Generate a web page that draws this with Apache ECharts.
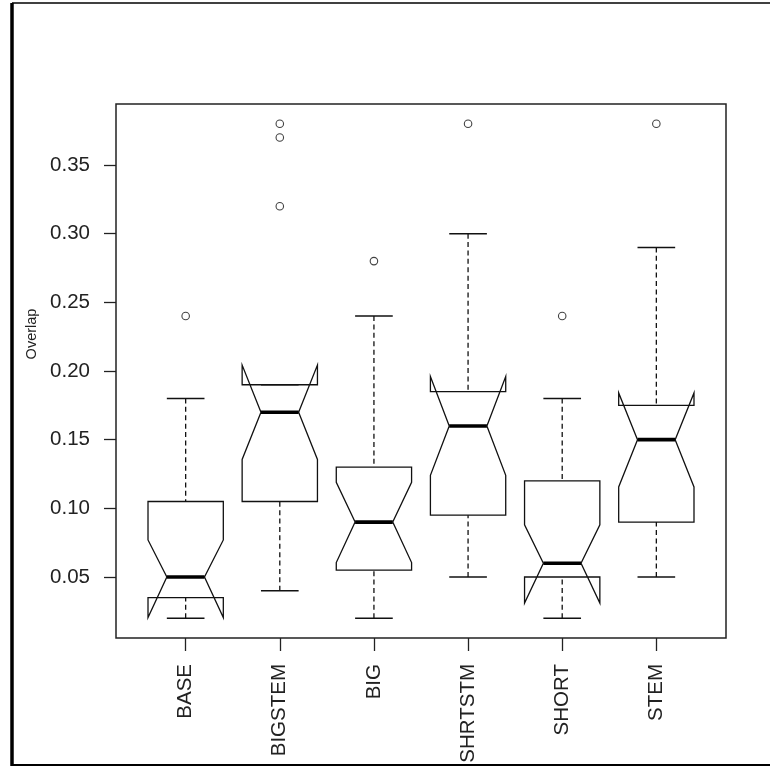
<!DOCTYPE html>
<html>
<head>
<meta charset="utf-8">
<script src="https://cdn.jsdelivr.net/npm/echarts@6/dist/echarts.min.js"></script>
<style>
  html, body { margin: 0; padding: 0; background: #fff; }
  #chart { width: 770px; height: 766px; }
</style>
</head>
<body>
<div id="chart"></div>
<script>
// Overlap by configuration: notched box plots
const categories  = ['BASE', 'BIGSTEM', 'BIG', 'SHRTSTM', 'SHORT', 'STEM'];
const whiskerLow  = [0.02, 0.04, 0.02, 0.05, 0.02, 0.05];
const lowerQuart  = [0.035, 0.105, 0.055, 0.095, 0.05, 0.09];
const medians     = [0.05, 0.17, 0.09, 0.16, 0.06, 0.15];
const upperQuart  = [0.105, 0.19, 0.13, 0.185, 0.12, 0.175];
const whiskerHigh = [0.18, 0.19, 0.24, 0.30, 0.18, 0.29];
const notchLow    = [0.0205, 0.1356, 0.0605, 0.124, 0.031, 0.1156];
const notchHigh   = [0.077, 0.2043, 0.119, 0.196, 0.088, 0.184];
const outliers    = [[0.24], [0.38, 0.37, 0.32], [0.28], [0.38], [0.24], [0.38]];
const yTicks      = [0.05, 0.10, 0.15, 0.20, 0.25, 0.30, 0.35];

const positions = categories.map((_, i) => i + 1);

const boxData = categories.map((_, i) => [
  positions[i], whiskerLow[i], lowerQuart[i], medians[i],
  upperQuart[i], whiskerHigh[i], notchLow[i], notchHigh[i]
]);

const outlierData = [];
outliers.forEach((vals, i) => vals.forEach(v => outlierData.push([positions[i], v])));

const FONT = "'Liberation Sans', Arial, sans-serif";
const INK = '#111';

function renderBox(params, api) {
  const x = api.value(0);
  const lo = api.value(1), q1 = api.value(2), med = api.value(3);
  const q3 = api.value(4), hi = api.value(5);
  const nlo = api.value(6), nhi = api.value(7);
  const w = 0.4;      // half box width (axis units)
  const nf = 0.5;     // notch fraction
  const sw = 0.2;     // half staple width
  const pt = (xx, yy) => api.coord([xx, yy]);
  const seg = (a, b, style) => ({
    type: 'line',
    shape: { x1: a[0], y1: a[1], x2: b[0], y2: b[1] },
    style: Object.assign({ stroke: INK, lineWidth: 1.3 }, style)
  });
  return {
    type: 'group',
    children: [
      // dashed whiskers
      seg(pt(x, lo), pt(x, q1), { lineDash: [5, 3.4] }),
      seg(pt(x, hi), pt(x, q3), { lineDash: [5, 3.4] }),
      // staples
      seg(pt(x - sw, lo), pt(x + sw, lo), { lineWidth: 1.5 }),
      seg(pt(x - sw, hi), pt(x + sw, hi), { lineWidth: 1.5 }),
      // notched box outline
      {
        type: 'polygon',
        shape: {
          points: [
            pt(x - w, q1), pt(x + w, q1), pt(x + w, nlo), pt(x + nf * w, med),
            pt(x + w, nhi), pt(x + w, q3), pt(x - w, q3), pt(x - w, nhi),
            pt(x - nf * w, med), pt(x - w, nlo)
          ]
        },
        style: { fill: 'none', stroke: INK, lineWidth: 1.3 }
      },
      // median
      seg(pt(x - nf * w, med), pt(x + nf * w, med), { lineWidth: 3.6, stroke: '#000' })
    ]
  };
}

const chart = echarts.init(document.getElementById('chart'), null, { renderer: 'canvas' });

chart.setOption({
  animation: false,
  backgroundColor: '#fff',
  grid: {
    left: 116, right: 44, top: 104, bottom: 128,
    show: true, borderColor: '#222', borderWidth: 1.5, backgroundColor: 'transparent'
  },
  xAxis: {
    type: 'value',
    min: 0.26, max: 6.74,
    axisLine: { show: false },
    splitLine: { show: false },
    axisTick: {
      show: true, length: 13, customValues: positions,
      lineStyle: { color: '#222', width: 1.3 }
    },
    axisLabel: {
      customValues: positions,
      rotate: 90,
      margin: 26,
      fontSize: 20.5,
      fontFamily: FONT,
      color: '#222',
      formatter: v => categories[Math.round(v) - 1] || ''
    }
  },
  yAxis: {
    type: 'value',
    min: 0.0056, max: 0.3944,
    axisLine: { show: false },
    splitLine: { show: false },
    axisTick: {
      show: true, length: 12, customValues: yTicks,
      lineStyle: { color: '#222', width: 1.3 }
    },
    axisLabel: {
      customValues: yTicks,
      margin: 26,
      fontSize: 20.5,
      fontFamily: FONT,
      color: '#222',
      formatter: v => v.toFixed(2)
    }
  },
  graphic: [
    // outer frame
    { type: 'line', shape: { x1: 12, y1: 3, x2: 12, y2: 766 }, style: { stroke: '#000', lineWidth: 3.5 } },
    { type: 'line', shape: { x1: 12, y1: 3, x2: 770, y2: 3 }, style: { stroke: '#000', lineWidth: 1.6 } },
    { type: 'line', shape: { x1: 12, y1: 765, x2: 770, y2: 765 }, style: { stroke: '#000', lineWidth: 2 } },
    // axis title
    {
      type: 'text', x: 32, y: 334, rotation: Math.PI / 2,
      style: {
        text: 'Overlap',
        font: "14.5px 'Liberation Sans', Arial, sans-serif",
        fill: '#222', align: 'center', verticalAlign: 'middle'
      }
    }
  ],
  series: [
    {
      type: 'custom',
      renderItem: renderBox,
      data: boxData,
      encode: { x: 0, y: [1, 5] },
      z: 3
    },
    {
      type: 'scatter',
      data: outlierData,
      symbol: 'circle',
      symbolSize: 7.5,
      itemStyle: { color: 'rgba(0,0,0,0)', borderColor: INK, borderWidth: 1.1 },
      z: 4
    }
  ]
});
</script>
</body>
</html>
